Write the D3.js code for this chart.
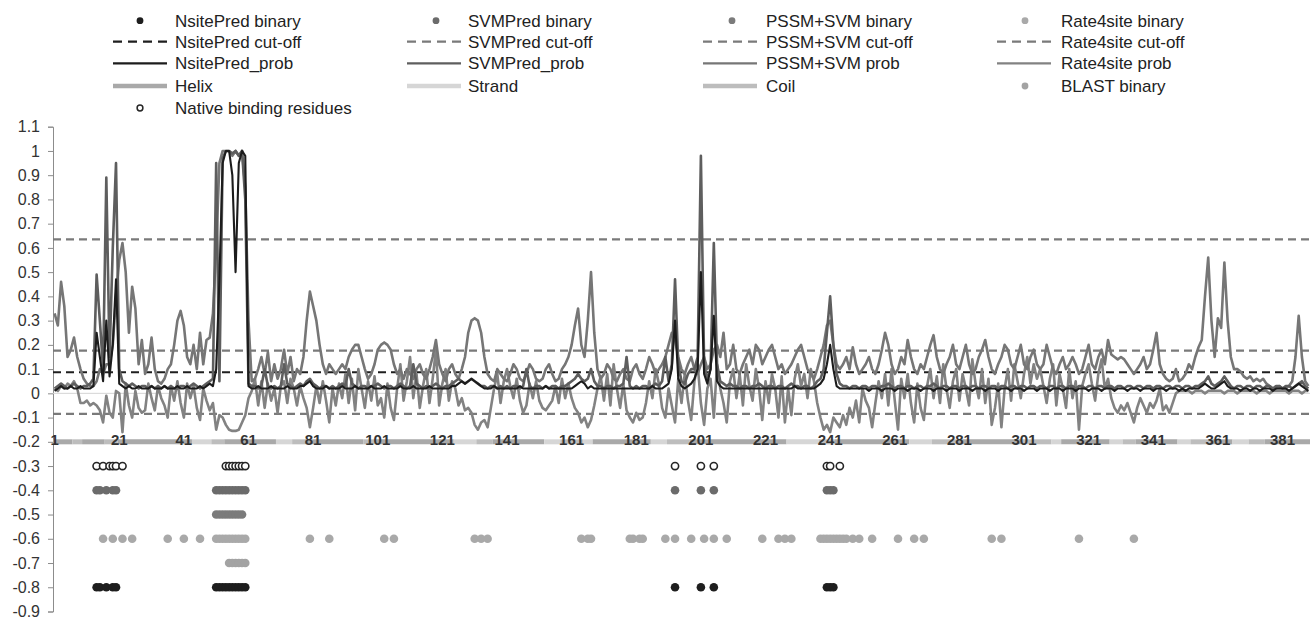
<!DOCTYPE html>
<html>
<head>
<meta charset="utf-8">
<script src="https://cdn.jsdelivr.net/npm/d3@7"></script>
<style>
  body { margin: 0; background: #fff; }
  text { font-family: "Liberation Sans", Arial, sans-serif; }
</style>
</head>
<body>
<svg id="chart" width="1314" height="619"></svg>
<script>
// residues along the sequence
const residueCount = 389;
const tickResidues = d3.range(1, 390, 20);

// NsitePred_prob, one value per residue (rows of 10)
const nsiteProb = [
  0.01,0.02,0.03,0.02,0.02,0.03,0.02,0.02,0.03,0.02,
  0.02,0.02,0.03,0.25,0.15,0.05,0.3,0.07,0.2,0.47,
  0.04,0.03,0.02,0.03,0.02,0.02,0.03,0.02,0.02,0.02,
  0.03,0.02,0.02,0.02,0.03,0.02,0.02,0.02,0.03,0.02,
  0.02,0.03,0.02,0.02,0.02,0.03,0.02,0.03,0.04,0.03,
  0.1,0.47,0.95,1.0,1.0,0.9,0.5,0.95,1.0,0.98,
  0.03,0.02,0.02,0.03,0.02,0.02,0.02,0.03,0.02,0.02,
  0.02,0.02,0.03,0.02,0.02,0.02,0.03,0.03,0.04,0.05,
  0.03,0.02,0.02,0.02,0.03,0.02,0.02,0.02,0.02,0.03,
  0.02,0.02,0.02,0.03,0.02,0.02,0.02,0.02,0.03,0.02,
  0.02,0.02,0.03,0.02,0.02,0.02,0.02,0.03,0.02,0.02,
  0.02,0.03,0.02,0.02,0.02,0.02,0.03,0.02,0.02,0.02,
  0.02,0.02,0.02,0.03,0.03,0.04,0.05,0.04,0.05,0.06,
  0.05,0.04,0.03,0.02,0.02,0.02,0.03,0.02,0.02,0.02,
  0.02,0.02,0.02,0.02,0.03,0.02,0.02,0.02,0.02,0.02,
  0.02,0.02,0.03,0.02,0.02,0.02,0.02,0.02,0.02,0.02,
  0.02,0.03,0.04,0.05,0.04,0.02,0.03,0.02,0.02,0.02,
  0.02,0.02,0.02,0.02,0.02,0.02,0.02,0.02,0.02,0.02,
  0.02,0.02,0.02,0.02,0.02,0.03,0.02,0.02,0.02,0.03,
  0.04,0.1,0.3,0.06,0.03,0.02,0.03,0.04,0.06,0.1,
  0.5,0.08,0.04,0.1,0.32,0.05,0.03,0.02,0.02,0.02,
  0.02,0.02,0.02,0.02,0.02,0.02,0.02,0.02,0.02,0.02,
  0.02,0.02,0.02,0.02,0.02,0.02,0.02,0.02,0.02,0.03,
  0.02,0.02,0.02,0.02,0.02,0.02,0.03,0.04,0.06,0.12,
  0.2,0.1,0.03,0.02,0.02,0.02,0.02,0.02,0.02,0.02,
  0.02,0.02,0.01,0.02,0.02,0.02,0.01,0.02,0.02,0.02,
  0.01,0.02,0.02,0.02,0.01,0.02,0.02,0.02,0.01,0.02,
  0.02,0.02,0.01,0.02,0.02,0.02,0.01,0.02,0.02,0.02,
  0.01,0.02,0.02,0.02,0.01,0.02,0.02,0.02,0.01,0.02,
  0.02,0.02,0.01,0.02,0.02,0.02,0.01,0.02,0.02,0.02,
  0.01,0.02,0.02,0.02,0.01,0.02,0.02,0.02,0.01,0.02,
  0.02,0.02,0.01,0.02,0.02,0.02,0.01,0.02,0.02,0.02,
  0.01,0.02,0.02,0.02,0.01,0.02,0.02,0.02,0.01,0.02,
  0.02,0.02,0.01,0.02,0.02,0.02,0.01,0.02,0.02,0.02,
  0.01,0.02,0.02,0.02,0.01,0.02,0.02,0.02,0.01,0.02,
  0.01,0.02,0.02,0.02,0.02,0.03,0.04,0.03,0.02,0.02,
  0.03,0.04,0.05,0.03,0.02,0.02,0.02,0.01,0.02,0.02,
  0.01,0.02,0.02,0.01,0.02,0.02,0.02,0.01,0.02,0.02,
  0.02,0.02,0.01,0.02,0.03,0.04,0.03,0.02,0.01
];

// SVMPred_prob
const svmProb = [
  0.02,0.03,0.04,0.03,0.02,0.03,0.04,0.03,0.02,0.03,
  0.03,0.04,0.06,0.49,0.3,0.1,0.89,0.15,0.6,0.95,
  0.1,0.05,0.04,0.03,0.04,0.03,0.02,0.03,0.03,0.02,
  0.03,0.02,0.03,0.02,0.03,0.02,0.03,0.02,0.02,0.03,
  0.03,0.02,0.03,0.04,0.03,0.02,0.03,0.04,0.05,0.06,
  0.95,0.05,0.97,1.0,1.0,0.99,1.0,0.98,1.0,0.8,
  0.04,0.03,0.03,0.02,0.03,0.1,0.03,0.02,0.03,0.02,
  0.03,0.12,0.04,0.03,0.02,0.03,0.04,0.03,0.05,0.06,
  0.04,0.03,0.02,0.03,0.03,0.02,0.03,0.02,0.03,0.04,
  0.03,0.1,0.04,0.03,0.02,0.03,0.03,0.02,0.03,0.03,
  0.04,0.03,0.02,0.03,0.03,0.02,0.03,0.04,0.03,0.02,
  0.03,0.12,0.04,0.03,0.02,0.03,0.02,0.03,0.04,0.03,
  0.02,0.03,0.03,0.04,0.05,0.06,0.05,0.04,0.05,0.06,
  0.05,0.04,0.03,0.03,0.02,0.03,0.03,0.02,0.03,0.02,
  0.03,0.02,0.03,0.03,0.02,0.03,0.1,0.03,0.02,0.03,
  0.03,0.02,0.03,0.02,0.03,0.03,0.02,0.03,0.03,0.04,
  0.05,0.06,0.08,0.06,0.05,0.06,0.1,0.05,0.03,0.03,
  0.02,0.03,0.03,0.02,0.03,0.03,0.04,0.15,0.03,0.02,
  0.03,0.02,0.03,0.03,0.02,0.03,0.04,0.03,0.05,0.15,
  0.05,0.12,0.47,0.12,0.05,0.04,0.08,0.1,0.1,0.15,
  0.98,0.12,0.06,0.1,0.62,0.12,0.05,0.04,0.03,0.04,
  0.03,0.03,0.02,0.03,0.03,0.02,0.03,0.03,0.04,0.03,
  0.02,0.03,0.03,0.02,0.03,0.03,0.02,0.03,0.04,0.03,
  0.03,0.02,0.03,0.03,0.02,0.03,0.05,0.06,0.1,0.25,
  0.4,0.2,0.08,0.04,0.03,0.03,0.02,0.03,0.03,0.02,
  0.03,0.03,0.02,0.03,0.03,0.02,0.03,0.03,0.04,0.03,
  0.02,0.03,0.03,0.02,0.03,0.03,0.02,0.03,0.03,0.02,
  0.03,0.03,0.04,0.03,0.02,0.03,0.03,0.02,0.03,0.03,
  0.02,0.03,0.03,0.02,0.03,0.03,0.02,0.03,0.03,0.02,
  0.03,0.03,0.02,0.03,0.03,0.02,0.03,0.03,0.02,0.03,
  0.03,0.02,0.03,0.03,0.02,0.03,0.03,0.02,0.03,0.03,
  0.02,0.03,0.03,0.02,0.03,0.03,0.02,0.03,0.03,0.02,
  0.03,0.03,0.02,0.03,0.03,0.02,0.03,0.03,0.02,0.03,
  0.03,0.02,0.03,0.03,0.02,0.03,0.03,0.02,0.03,0.03,
  0.02,0.03,0.03,0.02,0.03,0.03,0.02,0.03,0.03,0.02,
  0.03,0.03,0.02,0.03,0.03,0.04,0.05,0.07,0.04,0.03,
  0.04,0.05,0.07,0.05,0.03,0.02,0.03,0.03,0.02,0.03,
  0.03,0.02,0.03,0.03,0.02,0.03,0.03,0.02,0.03,0.03,
  0.02,0.03,0.03,0.02,0.03,0.04,0.05,0.03,0.02
];

// PSSM+SVM prob
const pssmProb = [
  0.33,0.28,0.46,0.36,0.15,0.18,0.23,0.15,0.1,0.06,
  0.04,0.03,0.03,0.05,0.1,0.08,0.12,0.12,0.2,0.4,
  0.55,0.62,0.5,0.25,0.44,0.35,0.12,0.22,0.08,0.12,
  0.23,0.1,0.05,0.04,0.06,0.1,0.12,0.2,0.3,0.34,
  0.28,0.15,0.12,0.2,0.1,0.25,0.12,0.22,0.23,0.33,
  0.6,0.95,1.0,1.0,1.0,0.98,1.0,0.98,1.0,0.85,
  0.3,0.05,0.06,0.1,0.15,0.08,0.17,0.05,0.12,0.06,
  0.1,0.18,0.08,0.15,0.05,0.1,0.08,0.15,0.3,0.42,
  0.36,0.3,0.2,0.12,0.08,0.12,0.1,0.08,0.1,0.12,
  0.1,0.15,0.18,0.2,0.2,0.15,0.1,0.06,0.08,0.12,
  0.18,0.2,0.21,0.2,0.18,0.12,0.08,0.1,0.06,0.1,
  0.08,0.06,0.1,0.12,0.08,0.06,0.1,0.15,0.22,0.12,
  0.08,0.05,0.1,0.12,0.08,0.06,0.1,0.15,0.25,0.3,
  0.31,0.3,0.25,0.15,0.08,0.06,0.05,0.1,0.08,0.06,
  0.05,0.08,0.12,0.1,0.06,0.05,0.08,0.12,0.1,0.06,
  0.05,0.06,0.1,0.12,0.08,0.05,0.06,0.1,0.12,0.15,
  0.2,0.28,0.35,0.2,0.15,0.3,0.5,0.25,0.1,0.06,
  0.08,0.12,0.1,0.06,0.05,0.08,0.1,0.06,0.05,0.1,
  0.12,0.08,0.06,0.1,0.15,0.12,0.08,0.1,0.12,0.15,
  0.2,0.25,0.22,0.15,0.1,0.08,0.12,0.15,0.1,0.08,
  0.12,0.15,0.1,0.12,0.18,0.2,0.15,0.25,0.1,0.12,
  0.2,0.1,0.08,0.12,0.15,0.18,0.12,0.2,0.18,0.12,
  0.15,0.18,0.2,0.15,0.1,0.12,0.08,0.1,0.12,0.15,
  0.18,0.2,0.15,0.1,0.08,0.06,0.1,0.15,0.2,0.28,
  0.3,0.2,0.12,0.1,0.12,0.15,0.1,0.19,0.12,0.08,
  0.1,0.12,0.15,0.1,0.08,0.12,0.18,0.25,0.2,0.12,
  0.08,0.1,0.15,0.12,0.22,0.15,0.1,0.08,0.12,0.1,
  0.15,0.2,0.24,0.15,0.1,0.08,0.12,0.15,0.2,0.12,
  0.1,0.15,0.2,0.12,0.08,0.1,0.15,0.18,0.22,0.15,
  0.1,0.08,0.12,0.15,0.2,0.18,0.12,0.1,0.15,0.2,
  0.12,0.1,0.15,0.18,0.12,0.1,0.12,0.2,0.15,0.1,
  0.08,0.12,0.15,0.1,0.12,0.15,0.12,0.08,0.1,0.15,
  0.2,0.12,0.1,0.15,0.18,0.12,0.22,0.16,0.15,0.14,
  0.15,0.14,0.12,0.1,0.08,0.1,0.12,0.15,0.1,0.12,
  0.18,0.25,0.12,0.08,0.06,0.05,0.06,0.1,0.05,0.06,
  0.08,0.12,0.1,0.15,0.19,0.22,0.4,0.56,0.3,0.15,
  0.31,0.27,0.54,0.3,0.15,0.1,0.1,0.09,0.07,0.06,
  0.07,0.05,0.06,0.05,0.06,0.04,0.03,0.02,0.02,0.03,
  0.02,0.02,0.03,0.05,0.15,0.32,0.15,0.05,0.03
];

// Rate4site prob
const rate4Prob = [
  0.02,0.01,0.03,0.02,0.04,0.03,0.05,0.02,-0.04,-0.04,
  -0.03,-0.05,-0.04,-0.05,-0.07,-0.12,-0.01,-0.08,-0.1,0.01,
  0.0,-0.16,0.04,-0.05,-0.1,0.01,-0.06,-0.08,-0.07,0.04,
  -0.02,-0.07,0.03,-0.02,-0.05,-0.1,0.03,-0.03,0.05,-0.04,
  -0.1,0.04,-0.02,0.03,-0.06,-0.11,0.02,-0.03,-0.07,-0.04,
  -0.15,-0.09,-0.1,-0.13,-0.15,-0.155,-0.155,-0.15,-0.12,-0.09,
  -0.02,0.01,0.06,-0.05,0.05,-0.06,0.04,-0.03,0.02,-0.08,
  0.03,0.05,-0.04,0.06,0.02,-0.05,0.03,-0.02,-0.06,-0.14,
  -0.06,0.03,-0.04,0.05,-0.03,-0.12,0.02,-0.05,0.04,-0.02,
  0.08,-0.04,0.06,-0.07,0.1,0.02,-0.06,0.05,-0.03,0.07,
  -0.05,-0.02,-0.1,0.04,-0.06,-0.11,0.02,0.12,-0.03,0.05,
  0.15,-0.02,0.08,-0.06,0.03,0.1,-0.04,0.06,0.18,-0.05,
  0.04,0.1,-0.03,0.05,0.02,-0.05,-0.02,-0.07,-0.06,-0.08,
  -0.13,-0.15,-0.12,-0.11,-0.14,-0.06,0.02,0.08,-0.04,0.05,
  0.1,0.03,-0.02,0.06,-0.03,-0.08,-0.05,0.04,-0.02,0.05,
  -0.03,-0.06,-0.07,-0.05,-0.03,0.03,-0.04,0.06,-0.02,0.04,
  -0.02,-0.06,-0.08,-0.12,-0.1,-0.14,-0.11,-0.05,0.02,0.07,
  -0.03,0.08,-0.05,0.12,0.02,-0.06,0.04,-0.07,-0.1,-0.12,
  -0.08,-0.11,-0.1,-0.04,0.05,-0.02,0.1,0.04,-0.06,-0.1,
  0.02,-0.05,-0.12,0.06,-0.04,0.08,-0.03,-0.11,0.05,0.12,
  -0.04,-0.13,0.02,0.06,-0.1,0.12,0.02,-0.04,-0.12,0.05,
  0.1,-0.02,0.08,-0.05,0.12,0.03,-0.03,0.1,0.02,-0.11,
  0.05,-0.04,0.08,0.02,-0.1,0.07,-0.12,0.02,-0.09,0.06,
  0.12,0.03,0.08,-0.02,0.1,0.05,-0.04,-0.1,-0.15,-0.13,
  -0.16,-0.1,-0.12,-0.14,-0.09,-0.13,-0.06,-0.1,-0.03,-0.12,
  0.02,-0.03,-0.06,-0.14,-0.04,0.05,-0.02,0.08,-0.05,0.1,
  -0.03,-0.15,0.06,-0.02,0.08,-0.04,-0.12,0.04,-0.06,-0.11,
  0.03,0.1,-0.02,0.07,-0.04,0.12,0.02,-0.06,0.05,0.1,
  -0.03,0.08,0.02,-0.05,0.14,0.04,-0.02,0.1,-0.04,0.06,
  -0.13,-0.06,0.04,-0.14,0.02,0.1,-0.03,0.12,0.05,-0.02,
  0.08,0.15,0.04,0.12,0.06,0.1,0.03,-0.04,0.06,0.12,
  -0.05,0.08,0.02,-0.06,0.1,-0.02,0.05,-0.15,0.03,0.08,
  0.12,0.04,-0.03,0.08,0.14,0.02,0.06,-0.02,-0.06,-0.08,
  -0.05,-0.07,-0.04,-0.08,-0.12,-0.06,-0.02,-0.05,-0.08,-0.04,
  -0.06,-0.03,0.02,-0.07,-0.05,-0.08,-0.04,0.0,0.01,0.01,
  0.01,0.01,0.0,0.01,0.01,0.01,0.0,0.01,0.01,0.01,
  0.01,0.01,0.0,0.01,0.01,0.01,0.0,0.01,0.01,0.01,
  0.01,0.01,0.0,0.01,0.01,0.01,0.0,0.01,0.01,0.01,
  0.01,0.01,0.0,0.01,0.01,0.01,0.0,0.01,0.01
];

// cut-off levels
const cutoffNames = ['NsitePred cut-off', 'SVMPred cut-off', 'PSSM+SVM cut-off', 'Rate4site cut-off'];
const cutoffValues = [0.087, 0.176, 0.635, -0.085];

// binary predictions: residues flagged, drawn at fixed levels
const nativeResidues = [14,16,18,19,20,22,54,55,56,57,58,59,60,193,201,205,240,241,244];
const svmBinary = [14,15,17,19,20,51,52,53,54,55,56,57,58,59,60,193,201,205,240,241,242];
const pssmBinary = [51,52,53,54,55,56,57,58,59];
const rate4Binary = [16,19,22,25,36,41,46,51,52,53,54,55,56,57,58,59,60,80,86,103,106,
  131,133,135,164,166,167,179,180,182,183,190,193,198,202,205,209,220,225,227,229,
  238,239,240,241,242,243,244,245,246,248,250,254,262,267,270,291,294,318,335];
const blastBinary = [55,56,57,58,59,60];
const nsiteBinary = [14,15,17,19,20,51,52,53,54,55,56,57,58,59,60,193,201,205,240,241,242];
const binaryLevels = [-0.3, -0.4, -0.5, -0.6, -0.7, -0.8];

// secondary structure runs [start, end, type]
const structureRuns = [
  [1,6,'H'],[7,9,'C'],[10,16,'H'],[17,20,'C'],[21,43,'H'],[44,49,'S'],[50,53,'C'],
  [54,69,'H'],[70,74,'S'],[75,78,'C'],[79,96,'H'],[97,100,'C'],[101,124,'H'],[125,131,'S'],
  [132,136,'C'],[137,152,'H'],[153,157,'S'],[158,164,'C'],[165,167,'S'],[168,185,'H'],
  [186,190,'S'],[191,197,'C'],[198,227,'H'],[228,237,'S'],[238,242,'C'],[243,265,'H'],
  [266,272,'S'],[273,280,'C'],[281,300,'H'],[301,309,'C'],[310,312,'S'],[313,327,'H'],
  [328,331,'S'],[332,335,'C'],[336,348,'H'],[349,352,'S'],[353,358,'C'],[359,365,'H'],
  [366,370,'S'],[371,375,'C'],[376,389,'H']
];

const ssColor = { H: '#a9a9a9', S: '#d6d6d6', C: '#bdbdbd' };

const svg = d3.select('#chart');
svg.append('rect').attr('width', 1314).attr('height', 619).attr('fill', '#fff');

const residues = d3.range(1, residueCount + 1);
const x = d3.scaleBand().domain(residues).range([53, 1310]);
const cx = r => x(r) + x.bandwidth() / 2;
const y = d3.scaleLinear().domain([-0.9, 1.1]).range([611.5, 126.7]);

// y axis
const yAxis = d3.axisLeft(y)
  .tickValues(d3.range(-9, 12).map(v => v / 10))
  .tickSize(5)
  .tickPadding(8)
  .tickFormat(d => String(+d.toFixed(1)));
const gy = svg.append('g').attr('transform', 'translate(53,0)').call(yAxis);
gy.select('.domain').attr('stroke', '#8c8c8c');
gy.selectAll('.tick line').attr('stroke', '#8c8c8c');
gy.selectAll('.tick text').attr('font-size', 16).attr('fill', '#333')
  .attr('font-family', '"Liberation Sans", Arial, sans-serif');

// zero line
svg.append('line')
  .attr('x1', 53).attr('x2', 1310)
  .attr('y1', y(0)).attr('y2', y(0))
  .attr('stroke', '#d4d4d4').attr('stroke-width', 1);

// secondary structure band on the category axis
svg.append('g').selectAll('line').data(structureRuns).join('line')
  .attr('x1', d => x(d[0]))
  .attr('x2', d => x(d[1]) + x.bandwidth())
  .attr('y1', y(-0.2)).attr('y2', y(-0.2))
  .attr('stroke', d => ssColor[d[2]])
  .attr('stroke-width', 5);

// cut-off lines
const cutoffColors = ['#1f1f1f', '#7a7a7a', '#7a7a7a', '#7a7a7a'];
svg.append('g').selectAll('line').data(cutoffValues).join('line')
  .attr('x1', 53).attr('x2', 1310)
  .attr('y1', d => y(d)).attr('y2', d => y(d))
  .attr('stroke', (d, i) => cutoffColors[i])
  .attr('stroke-width', 2.2)
  .attr('stroke-dasharray', '8,5');

// probability lines
const line = d3.line().x((d, i) => cx(i + 1)).y(d => y(d));
const probSeries = [
  { values: rate4Prob, color: '#828282', width: 2.6 },
  { values: pssmProb, color: '#767676', width: 2.6 },
  { values: svmProb, color: '#5e5e5e', width: 2.6 },
  { values: nsiteProb, color: '#1c1c1c', width: 2.1 }
];
svg.append('g').selectAll('path').data(probSeries).join('path')
  .attr('d', d => line(d.values))
  .attr('fill', 'none')
  .attr('stroke', d => d.color)
  .attr('stroke-width', d => d.width)
  .attr('stroke-linejoin', 'round');

// x tick labels over the structure band
svg.append('g').selectAll('text').data(tickResidues).join('text')
  .attr('x', d => cx(d))
  .attr('y', 445)
  .attr('text-anchor', 'middle')
  .attr('font-size', 15)
  .attr('font-weight', 'bold')
  .attr('fill', '#333')
  .text(d => d);

// binary dots
const binarySeries = [
  { res: svmBinary, level: binaryLevels[1], color: '#6b6b6b' },
  { res: pssmBinary, level: binaryLevels[2], color: '#7b7b7b' },
  { res: rate4Binary, level: binaryLevels[3], color: '#a9a9a9' },
  { res: blastBinary, level: binaryLevels[4], color: '#a3a3a3' },
  { res: nsiteBinary, level: binaryLevels[5], color: '#1e1e1e' }
];
binarySeries.forEach(s => {
  svg.append('g').selectAll('circle').data(s.res).join('circle')
    .attr('cx', d => cx(d)).attr('cy', y(s.level)).attr('r', 4.3)
    .attr('fill', s.color);
});
svg.append('g').selectAll('circle').data(nativeResidues).join('circle')
  .attr('cx', d => cx(d)).attr('cy', y(binaryLevels[0])).attr('r', 3.6)
  .attr('fill', '#fff').attr('stroke', '#262626').attr('stroke-width', 1.6);

// legend
const legendCols = [
  { sx: 113, mx: 140, tx: 175 },
  { sx: 407, mx: 436, tx: 468 },
  { sx: 703, mx: 732, tx: 766 },
  { sx: 997, mx: 1025, tx: 1061 }
];
const legendRowsY = [20.7, 41.7, 63.3, 86, 108];
const legendItems = [
  { col: 0, row: 0, kind: 'dot', color: '#1e1e1e', label: 'NsitePred binary' },
  { col: 1, row: 0, kind: 'dot', color: '#6b6b6b', label: 'SVMPred binary' },
  { col: 2, row: 0, kind: 'dot', color: '#7b7b7b', label: 'PSSM+SVM binary' },
  { col: 3, row: 0, kind: 'dot', color: '#a9a9a9', label: 'Rate4site binary' },
  { col: 0, row: 1, kind: 'dash', color: '#1f1f1f', label: cutoffNames[0] },
  { col: 1, row: 1, kind: 'dash', color: '#7a7a7a', label: cutoffNames[1] },
  { col: 2, row: 1, kind: 'dash', color: '#7a7a7a', label: cutoffNames[2] },
  { col: 3, row: 1, kind: 'dash', color: '#7a7a7a', label: cutoffNames[3] },
  { col: 0, row: 2, kind: 'line', color: '#1c1c1c', label: 'NsitePred_prob' },
  { col: 1, row: 2, kind: 'line', color: '#5e5e5e', label: 'SVMPred_prob' },
  { col: 2, row: 2, kind: 'line', color: '#767676', label: 'PSSM+SVM prob' },
  { col: 3, row: 2, kind: 'line', color: '#828282', label: 'Rate4site prob' },
  { col: 0, row: 3, kind: 'band', color: ssColor.H, label: 'Helix' },
  { col: 1, row: 3, kind: 'band', color: ssColor.S, label: 'Strand' },
  { col: 2, row: 3, kind: 'band', color: ssColor.C, label: 'Coil' },
  { col: 3, row: 3, kind: 'dot', color: '#a3a3a3', label: 'BLAST binary' },
  { col: 0, row: 4, kind: 'ring', color: '#262626', label: 'Native binding residues' }
];
const lg = svg.append('g');
legendItems.forEach(it => {
  const c = legendCols[it.col], ly = legendRowsY[it.row];
  if (it.kind === 'dot') {
    lg.append('circle').attr('cx', c.mx).attr('cy', ly).attr('r', 3.4).attr('fill', it.color);
  } else if (it.kind === 'ring') {
    lg.append('circle').attr('cx', c.mx).attr('cy', ly).attr('r', 2.9)
      .attr('fill', '#fff').attr('stroke', it.color).attr('stroke-width', 1.5);
  } else {
    lg.append('line').attr('x1', c.sx).attr('x2', c.sx + 54).attr('y1', ly).attr('y2', ly)
      .attr('stroke', it.color)
      .attr('stroke-width', it.kind === 'band' ? 4.5 : 2.2)
      .attr('stroke-dasharray', it.kind === 'dash' ? '9,6' : null);
  }
  lg.append('text').attr('x', c.tx).attr('y', ly + 6)
    .attr('font-size', 17).attr('fill', '#222').text(it.label);
});
</script>
</body>
</html>
